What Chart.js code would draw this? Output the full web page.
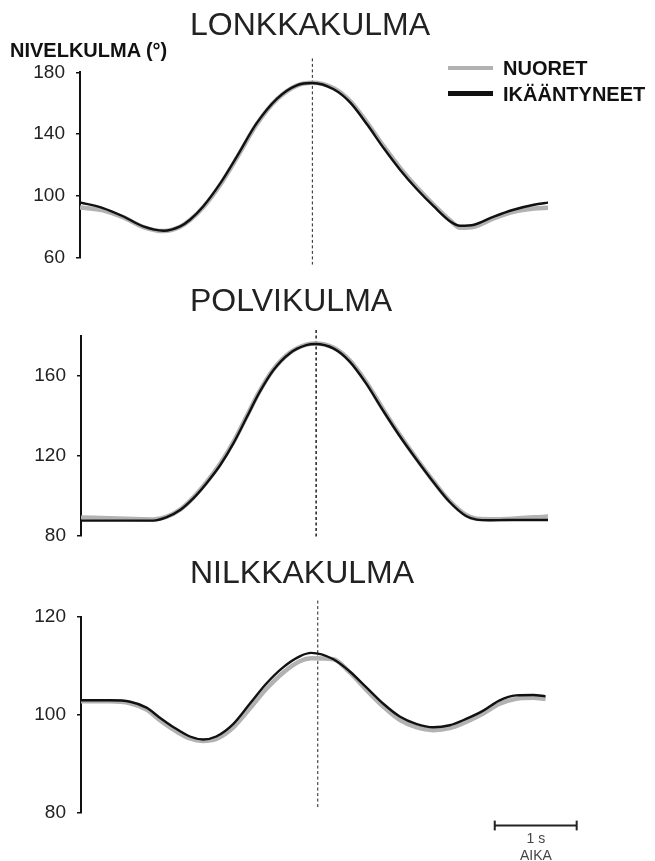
<!DOCTYPE html>
<html>
<head>
<meta charset="utf-8">
<script src="https://cdn.jsdelivr.net/npm/chart.js@4.4.1/dist/chart.umd.min.js"></script>
<style>
  html, body { margin:0; padding:0; background:#fff; }
  #wrap { position:relative; width:655px; height:861px; background:#fff; overflow:hidden;
          font-family:'Liberation Sans', Arial, sans-serif; }
  canvas { position:absolute; left:0; }
  .t { position:absolute; white-space:nowrap; line-height:1; }
  .title { font-size:32px; color:#222; }
</style>
</head>
<body>
<div id="wrap">
  <canvas id="c1" width="655" height="280" style="top:0px"></canvas>
  <canvas id="c2" width="655" height="280" style="top:280px"></canvas>
  <canvas id="c3" width="655" height="301" style="top:560px"></canvas>
  <div class="t title" style="left:190px;top:8px">LONKKAKULMA</div>
  <div class="t title" style="left:190px;top:284px">POLVIKULMA</div>
  <div class="t title" style="left:190px;top:556px">NILKKAKULMA</div>
  <div class="t" style="left:10px;top:40px;font-size:20px;font-weight:bold;color:#111">NIVELKULMA (°)</div>
  <div id="legend"></div>
  <div class="t" id="sb1" style="top:831px;font-size:14px;color:#444">1 s</div>
  <div class="t" id="sb2" style="top:848px;font-size:14px;color:#444">AIKA</div>
</div>
<script>
// ---------- DATA ----------
const seriesLabels = ['NUORET', 'IKÄÄNTYNEET'];
const seriesColors = ['#b2b2b2', '#111111'];

// Hip angle (LONKKAKULMA), time in seconds
const hipTime  = [0,0.28,0.53,0.77,1.02,1.22,1.34,1.50,1.71,1.91,2.15,2.40,2.64,2.83,3.09,3.29,3.50,3.70,3.90,4.11,4.31,4.51,4.63,4.80,5.04,5.28,5.53,5.71];
const hipOld   = [95.7,92.1,86.6,80.2,77.4,80.2,84.5,93.1,108.2,125.4,146.9,163.0,171.6,173.1,169.0,160.5,146.0,130.8,116.8,103.9,93.1,83.4,80.6,81.3,86.6,91.0,94.2,95.7];
const hipYoung = [92.5,90.6,86.0,79.8,77.2,80.0,84.3,92.6,107.4,124.6,146.2,162.6,171.4,173.2,169.6,161.3,147.1,132.0,118.0,105.0,94.0,84.0,79.3,80.0,85.4,89.6,91.8,92.3];
const hipTicks = [60, 100, 140, 180];

// Knee angle (POLVIKULMA)
const kneeTime  = [0,0.45,0.88,1.04,1.21,1.37,1.53,1.70,1.86,2.02,2.18,2.35,2.55,2.75,2.86,3.08,3.28,3.48,3.69,3.89,4.09,4.30,4.50,4.70,4.83,5.00,5.20,5.70];
const kneeOld   = [87.7,87.7,87.7,89.3,93.0,98.8,106.3,115.5,126.3,139.1,151.9,163.0,171.4,175.4,176.0,173.8,167.2,156.3,142.5,130.0,118.5,107.0,97.0,90.0,88.2,87.9,88.0,88.0];
const kneeYoung = [89.3,88.7,88.3,89.6,93.2,99.2,106.8,116.2,127.0,139.7,152.4,163.4,171.7,175.7,176.3,174.2,167.8,157.0,143.2,130.6,119.0,107.5,97.5,90.5,88.6,88.4,88.5,89.8];
const kneeTicks = [80, 120, 160];

// Ankle angle (NILKKAKULMA)
const ankleTime  = [0,0.35,0.60,0.80,0.95,1.13,1.33,1.49,1.65,1.86,2.06,2.26,2.47,2.67,2.81,3.08,3.28,3.48,3.69,3.89,4.09,4.30,4.50,4.70,4.91,5.11,5.31,5.52,5.67];
const ankleOld   = [102.9,102.9,102.6,101.4,99.5,97.4,95.5,94.9,95.5,98.1,102.2,106.3,109.7,111.9,112.6,111.3,108.8,105.6,102.2,99.6,98.1,97.4,97.8,99.1,100.8,102.9,103.9,104.0,103.7];
const ankleYoung = [102.7,102.7,102.3,101.0,99.0,96.9,95.1,94.6,95.0,97.4,101.2,105.2,108.6,110.9,111.5,111.3,108.6,105.1,101.6,98.9,97.4,96.8,97.2,98.5,100.2,102.2,103.2,103.4,103.2];
const ankleTicks = [80, 100, 120];

// Reference (dashed) moments and their extents
const dashTimes = [2.83, 2.87, 2.89];
const dashHip = [55.5, 189];
const dashKnee = [79.5, 183];
const dashAnkle = [81, 123.3];

// Time scale bar: 1 s
const scaleBarStart = 5.05;
const scaleBarSeconds = 1;
const scaleBarLevel = 77.3;
const scaleBarCap = 1.0;

// ---------- CHARTS ----------
function pts(t, v) { return t.map((x, i) => ({ x: x, y: v[i] })); }
function seg(x0, y0, x1, y1, extra) {
  return Object.assign({ data: [{ x: x0, y: y0 }, { x: x1, y: y1 }], borderColor: '#222',
    pointRadius: 0, clip: false, fill: false }, extra);
}

function panel(id, cfg) {
  const ds = [
    { label: seriesLabels[1], data: pts(cfg.time, cfg.old), borderColor: seriesColors[1], borderWidth: 2.4,
      pointRadius: 0, cubicInterpolationMode: 'monotone', order: 1, fill: false },
    { label: seriesLabels[0], data: pts(cfg.time, cfg.young), borderColor: seriesColors[0], borderWidth: 4.5,
      pointRadius: 0, cubicInterpolationMode: 'monotone', order: 2, fill: false },
    seg(cfg.dashT, cfg.dashRange[1], cfg.dashT, cfg.dashRange[0],
        { label: 'dash', borderWidth: cfg.dashW, borderDash: [3, 2.5], order: 3 })
  ];
  if (cfg.scaleBar) {
    const a = scaleBarStart, b = scaleBarStart + scaleBarSeconds, l = scaleBarLevel, c = scaleBarCap;
    ds.push(seg(a, l, b, l, { label: 'bar', borderWidth: 2, order: 4 }));
    ds.push(seg(a, l - c, a, l + c, { label: 'cap1', borderWidth: 2, order: 4 }));
    ds.push(seg(b, l - c, b, l + c, { label: 'cap2', borderWidth: 2, order: 4 }));
  }
  const H = document.getElementById(id).height;
  return new Chart(document.getElementById(id), {
    type: 'line',
    data: { datasets: ds },
    options: {
      responsive: false, animation: false, devicePixelRatio: 1,
      layout: { padding: { left: 0, right: 655 - 548, top: cfg.top, bottom: H - cfg.bottom } },
      plugins: { legend: { display: false }, title: { display: false }, tooltip: { enabled: false } },
      scales: {
        x: { type: 'linear', min: 0, max: 5.7, display: false },
        y: {
          min: cfg.min, max: cfg.max,
          afterFit: s => { s.width = cfg.axisX; },
          afterBuildTicks: s => { s.ticks = cfg.ticks.map(v => ({ value: v })); },
          grid: { display: true, drawOnChartArea: false, drawTicks: true, tickLength: 4, color: '#111', lineWidth: 1.5 },
          border: { display: true, color: '#111', width: 2 },
          ticks: { color: '#222', padding: 11,
                   font: { family: "'Liberation Sans Narrow','Liberation Sans',Arial,sans-serif", size: 19 } }
        }
      }
    }
  });
}

panel('c1', { time: hipTime, old: hipOld, young: hipYoung, min: 60, max: 180, ticks: hipTicks,
              dashT: dashTimes[0], dashRange: dashHip, dashW: 1, top: 72.3, bottom: 258, axisX: 80 });
panel('c2', { time: kneeTime, old: kneeOld, young: kneeYoung, min: 80, max: 180, ticks: kneeTicks,
              dashT: dashTimes[1], dashRange: dashKnee, dashW: 1.5, top: 56, bottom: 256, axisX: 81 });
panel('c3', { time: ankleTime, old: ankleOld, young: ankleYoung, min: 80, max: 120, ticks: ankleTicks,
              dashT: dashTimes[2], dashRange: dashAnkle, dashW: 1, top: 56.7, bottom: 252.3, axisX: 81, scaleBar: true });

// ---------- LEGEND ----------
const lg = document.getElementById('legend');
const rows = [{ y: 68, w: 4 }, { y: 93, w: 5 }];
seriesLabels.forEach((lab, i) => {
  const ln = document.createElement('div');
  ln.style.cssText = `position:absolute;left:448px;width:45px;top:${rows[i].y - rows[i].w / 2}px;height:${rows[i].w}px;background:${seriesColors[i]}`;
  lg.appendChild(ln);
  const tx = document.createElement('div');
  tx.className = 't';
  tx.textContent = lab;
  tx.style.cssText += `left:503px;top:${rows[i].y + (i ? 1 : 0) - 9.8}px;font-size:20px;font-weight:bold;color:#111`;
  lg.appendChild(tx);
});
// centre scale-bar captions under the bar
['sb1', 'sb2'].forEach(id => {
  const el = document.getElementById(id);
  el.style.left = (536 - el.offsetWidth / 2) + 'px';
});
</script>
</body>
</html>
